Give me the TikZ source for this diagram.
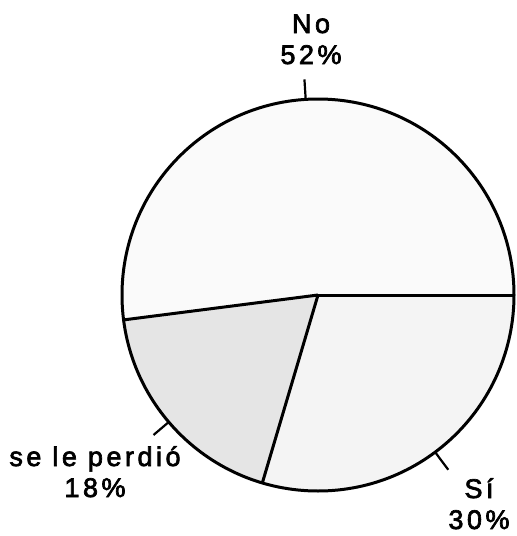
\documentclass[tikz,border=0pt]{standalone}
\usepackage{fontspec}
\setmainfont{Liberation Sans}[LetterSpace=13,FakeBold=2.5]
\begin{document}
\begin{tikzpicture}[x=1pt,y=-1pt,
  lbl/.style={font=\fontsize{27}{31}\selectfont, align=center, inner sep=0pt},
  edge/.style={line width=3pt},
  tick/.style={line width=2.2pt}]
\useasboundingbox (0,0) rectangle (517,536);
\coordinate (c) at (318,295);
\def\R{196}
% slices (y is flipped: angles negated)
\fill[gray!4] (c) -- ++(0:\R) arc[start angle=0,end angle=-187.3,radius=\R] -- cycle;
\fill[gray!20] (c) -- ++(-187.3:\R) arc[start angle=-187.3,end angle=-253.5,radius=\R] -- cycle;
\fill[gray!9] (c) -- ++(-253.5:\R) arc[start angle=-253.5,end angle=-360,radius=\R] -- cycle;
\draw[edge] (c) circle[radius=\R];
\draw[edge] (c) -- ++(0:\R) coordinate (p0);
\draw[edge] (c) -- ++(-187.3:\R) coordinate (p1);
\draw[edge] (c) -- ++(-253.5:\R) coordinate (p2);
% ticks
\path (c) ++(-93.6:\R) coordinate (t1a) ++(-93.6:20) coordinate (t1b);
\path (c) ++(-220.4:\R) coordinate (t2a) ++(-220.4:20) coordinate (t2b);
\path (c) ++(-306.7:\R) coordinate (t3a) ++(-306.7:22) coordinate (t3b);
\draw[tick] (t1a) -- (t1b);
\draw[tick] (t2a) -- (t2b);
\draw[tick] (t3a) -- (t3b);
% labels (base anchor = baseline of last line)
\node[lbl, anchor=base] (no) at (311,64) {No\\52\%};
\node[lbl, anchor=base] (se) at (95,497) {se le perdió\\18\%};
\node[lbl, anchor=base] (si) at (479,529) {Sí\\30\%};
\end{tikzpicture}
\end{document}
